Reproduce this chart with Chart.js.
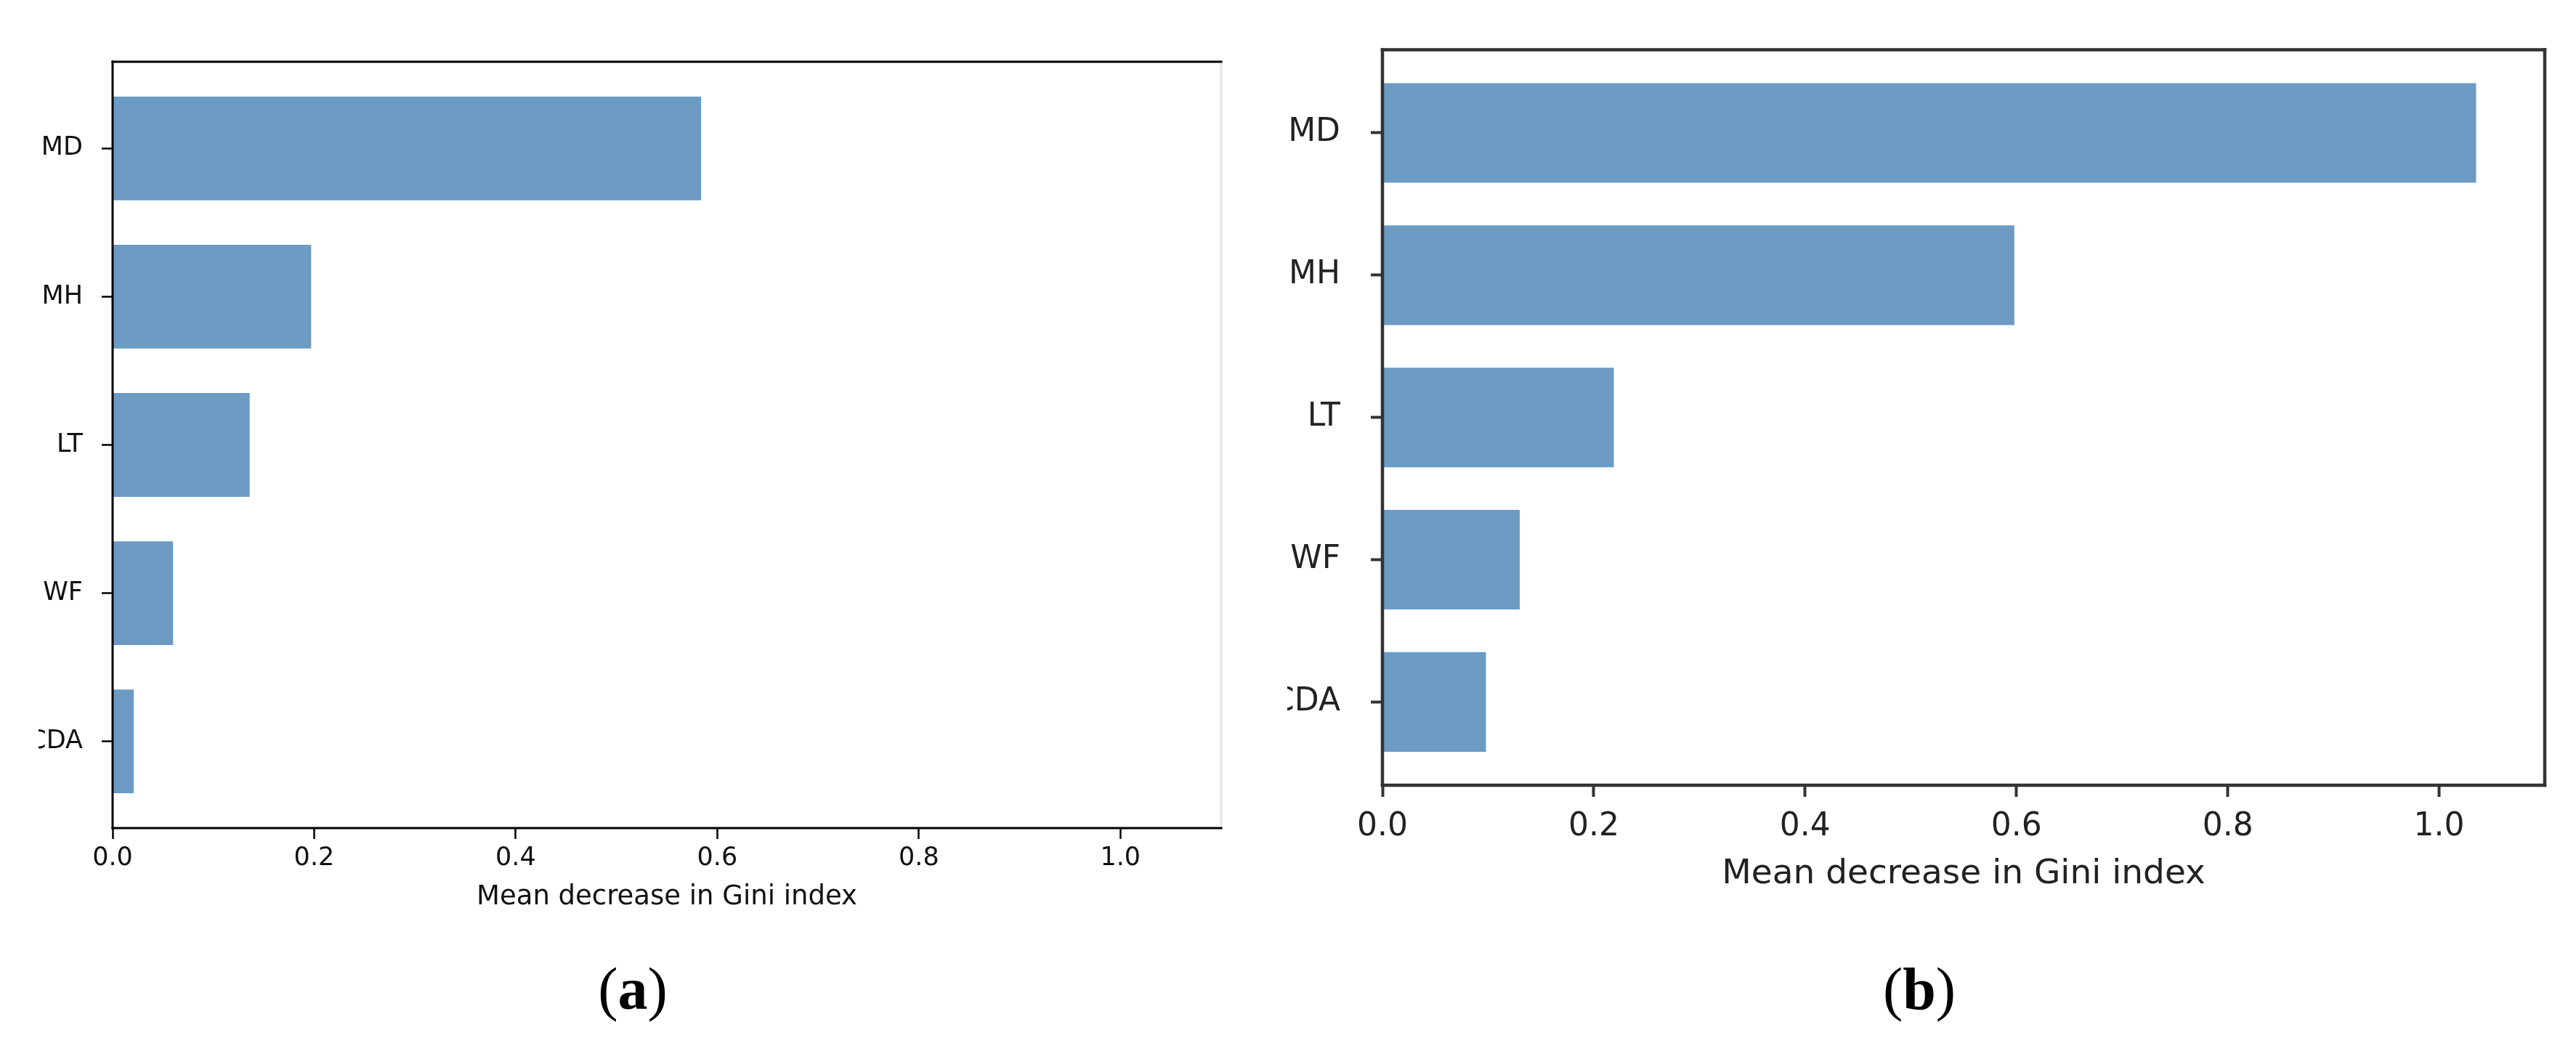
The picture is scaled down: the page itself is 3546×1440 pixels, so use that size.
<!DOCTYPE html>
<html><head><meta charset="utf-8">
<script src="https://cdn.jsdelivr.net/npm/chart.js@4.4.0/dist/chart.umd.min.js"></script>
<style>
html,body{margin:0;padding:0;background:#fff;width:3546px;height:1440px;overflow:hidden;position:relative}
.wrap{position:absolute;top:0}
#wa{left:53px}
#wb{left:1772px}
.cap{position:absolute;font-family:"Liberation Serif","Times New Roman",serif;font-size:82px;line-height:1;transform:translateX(-50%);white-space:nowrap;color:#000}
</style></head>
<body>
<div class="wrap" id="wa"><canvas id="ca" width="1680" height="1300"></canvas></div>
<div class="wrap" id="wb"><canvas id="cb" width="1774" height="1300"></canvas></div>
<div class="cap" style="left:871px;top:1321px">(<b>a</b>)</div>
<div class="cap" style="left:2642px;top:1321px">(<b>b</b>)</div>
<script>
// ---- data ----
const features = ['MD', 'MH', 'LT', 'WF', 'CDA'];
const giniA = [0.584, 0.197, 0.136, 0.060, 0.021];
const giniB = [1.035, 0.598, 0.219, 0.130, 0.098];
const xTickValues = [0.0, 0.2, 0.4, 0.6, 0.8, 1.0];
const xMin = 0, xMax = 1.1;
const yMin = -0.585, yMax = 4.585;
const axisLabel = 'Mean decrease in Gini index';
const barColor = 'rgb(107,155,195)';

function makeChart(id, values, st) {
  const spines = {
    id: 'spines',
    afterDatasetsDraw(chart) {
      const {ctx, chartArea: {left, right, top, bottom}} = chart;
      const w = st.spineW, h = w / 2;
      const line = (x1, y1, x2, y2, c) => {
        ctx.beginPath(); ctx.strokeStyle = c; ctx.lineWidth = w;
        ctx.moveTo(x1, y1); ctx.lineTo(x2, y2); ctx.stroke();
      };
      ctx.save();
      line(right, top - h, right, bottom + h, st.rightColor);
      line(left - h, top, right + h, top, st.spineColor);
      line(left, top - h, left, bottom + h, st.spineColor);
      line(left - h, bottom, right + h, bottom, st.spineColor);
      ctx.restore();
    }
  };
  return new Chart(document.getElementById(id), {
    type: 'bar',
    data: {
      datasets: [{
        data: features.map((f, i) => ({x: values[i], y: i})),
        backgroundColor: barColor,
        borderWidth: 0,
        categoryPercentage: 1,
        barPercentage: 0.7
      }]
    },
    options: {
      indexAxis: 'y',
      responsive: false,
      animation: false,
      devicePixelRatio: 1,
      layout: {padding: {left: 0, top: st.padTop, right: st.padRight, bottom: 0}},
      plugins: {legend: {display: false}, tooltip: {enabled: false}},
      scales: {
        x: {
          type: 'linear', position: 'bottom', min: xMin, max: xMax, offset: false,
          afterBuildTicks: s => { s.ticks = xTickValues.map(v => ({value: v})); },
          afterFit: s => { s.height = st.xAxisH; },
          border: {display: false},
          grid: {offset: false, drawOnChartArea: false, drawTicks: true, tickLength: st.tickLen, tickWidth: st.tickW, tickColor: st.spineColor},
          ticks: {padding: st.xTickPad, color: st.textColor, autoSkip: false, maxRotation: 0,
                  font: {family: 'DejaVu Sans', size: st.tickSize},
                  callback: v => Number(v).toFixed(1)},
          title: {display: true, text: axisLabel, color: st.textColor,
                  font: {family: 'DejaVu Sans', size: st.titleSize},
                  padding: {top: 0, bottom: st.titlePad}}
        },
        y: {
          type: 'linear', position: 'left', min: yMin, max: yMax, reverse: true, offset: false,
          afterBuildTicks: s => { s.ticks = features.map((f, i) => ({value: i})); },
          afterFit: s => { s.width = st.yAxisW; },
          border: {display: false},
          grid: {offset: false, drawOnChartArea: false, drawTicks: true, tickLength: st.tickLen, tickWidth: st.tickW, tickColor: st.spineColor},
          ticks: {padding: st.yTickPad, color: st.textColor, autoSkip: false,
                  font: {family: 'DejaVu Sans', size: st.tickSize},
                  callback: v => features[Math.round(v)]}
        }
      }
    },
    plugins: [spines]
  });
}

makeChart('ca', giniA, {
  padTop: 85, padRight: 52, xAxisH: 160, yAxisW: 102,
  tickLen: 15, tickW: 2.5, spineW: 3, spineColor: '#000', rightColor: '#e6e6e6',
  textColor: '#111', tickSize: 35, titleSize: 37,
  xTickPad: 6, yTickPad: 26, titlePad: 42
});
makeChart('cb', giniB, {
  padTop: 51, padRight: 43, xAxisH: 219, yAxisW: 131,
  tickLen: 16, tickW: 4, spineW: 4.5, spineColor: '#333', rightColor: '#333',
  textColor: '#222', tickSize: 44, titleSize: 47,
  xTickPad: 15, yTickPad: 42, titlePad: 68
});
</script>
</body></html>
